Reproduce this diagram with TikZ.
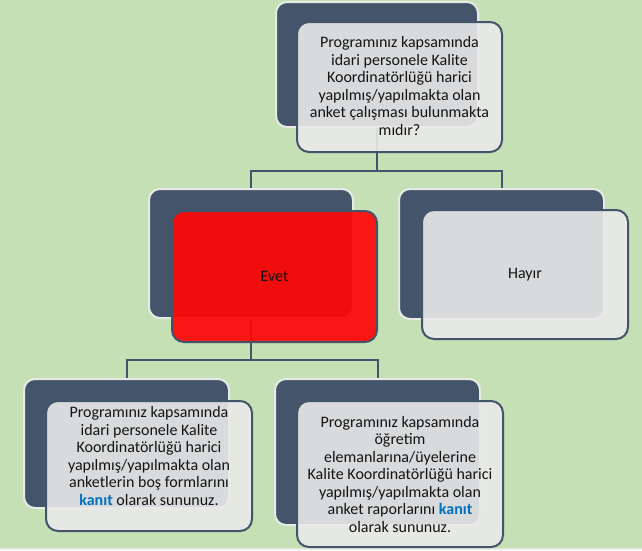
\documentclass[tikz,border=0pt]{standalone}
\usepackage{fontspec}
\setmainfont{Carlito}
\definecolor{bggreen}{RGB}{197,224,180}
\definecolor{slate}{RGB}{68,84,106}
\definecolor{edgelight}{RGB}{232,234,230}
\definecolor{frontfill}{RGB}{233,233,233}
\definecolor{redfill}{RGB}{252,8,8}
\definecolor{kanitblue}{RGB}{0,112,192}
\definecolor{txtcol}{RGB}{20,20,20}
\tikzset{
  backbox/.style={rectangle, fill=slate, draw=edgelight, line width=2pt, rounded corners=11pt, inner sep=0pt},
  frontbox/.style={rectangle, fill=frontfill, fill opacity=0.9, draw=slate, draw opacity=1, line width=2pt, rounded corners=12pt, inner sep=0pt, text opacity=1},
  redbox/.style={frontbox, fill=redfill, fill opacity=0.93},
  conn/.style={draw=slate, line width=2pt, line join=miter},
  txt/.style={align=center, text=txtcol, font=\fontsize{16}{17.5}\selectfont, inner sep=0pt},
}
\newcommand{\kanit}{\textcolor{kanitblue}{\textbf{kanıt}}}
\begin{document}
\begin{tikzpicture}[x=1pt,y=-1pt]
\fill[bggreen] (0,0) rectangle (642,550);
\fill[edgelight] (0,548) rectangle (642,550);
\useasboundingbox (0,0) rectangle (642,550);

% back boxes
\node[backbox, minimum width=202pt, minimum height=125pt] (q0) at (377,64.5) {};
\node[backbox, minimum width=204pt, minimum height=129pt] (e0) at (251,253.5) {};
\node[backbox, minimum width=205pt, minimum height=130pt] (h0) at (501.5,254) {};
\node[backbox, minimum width=205pt, minimum height=129pt] (bl0) at (126.5,443.5) {};
\node[backbox, minimum width=205pt, minimum height=146pt] (br0) at (377.5,452) {};

% connectors
\coordinate (j1) at (377,171);
\coordinate (j2) at (251,360);
\draw[conn] (q0.south) -- (j1);
\draw[conn] (e0.north) -- (e0.north |- j1) -- (h0.north |- j1) -- (h0.north);
\draw[conn] (e0.south) -- (j2);
\draw[conn] (bl0.north) -- (bl0.north |- j2) -- (br0.north |- j2) -- (br0.north);

% front boxes
\node[frontbox, minimum width=205pt, minimum height=130pt] (q1) at (399.5,87) {};
\node[redbox, minimum width=205pt, minimum height=131pt] (e1) at (274.5,276.5) {};
\node[frontbox, minimum width=206pt, minimum height=129pt] (h1) at (525,274.5) {};
\node[frontbox, minimum width=206pt, minimum height=130pt] (bl1) at (149,466) {};
\node[frontbox, minimum width=206pt, minimum height=146pt] (br1) at (400,474) {};

% texts
\node[txt] (qt) at ([yshift=1pt]q1.center) {Programınız kapsamında\\idari personele Kalite\\Koordinatörlüğü harici\\yapılmış/yapılmakta olan\\anket çalışması bulunmakta\\mıdır?};
\node[txt] (et) at (e1.center) {Evet};
\node[txt] (ht) at (h1.center) {Hayır};
\node[txt] (blt) at ([yshift=10pt]bl1.center) {Programınız kapsamında\\idari personele Kalite\\Koordinatörlüğü harici\\yapılmış/yapılmakta olan\\anketlerin boş formlarını\\\kanit{} olarak sununuz.};
\node[txt] (brt) at (br1.center) {Programınız kapsamında\\öğretim\\elemanlarına/üyelerine\\Kalite Koordinatörlüğü harici\\yapılmış/yapılmakta olan\\anket raporlarını \kanit\\olarak sununuz.};
\end{tikzpicture}
\end{document}
